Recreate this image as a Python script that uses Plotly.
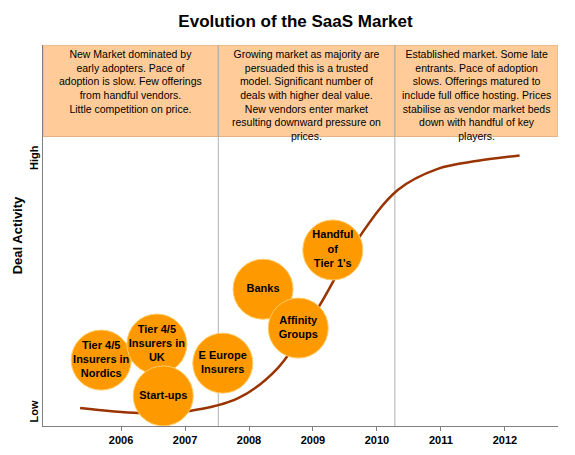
import plotly.graph_objects as go

curve_x = [2005.36, 2006.27, 2007.05, 2007.83, 2008.45, 2009.08, 2009.70, 2010.33, 2010.95, 2011.58, 2012.23]
curve_y = [4.7, 3.4, 3.9, 7.3, 15.2, 31, 49, 62, 67.5, 69.6, 71]

bub_labels = ["Tier 4/5<br>Insurers in<br>Nordics", "Tier 4/5<br>Insurers in<br>UK", "Start-ups",
              "E Europe<br>Insurers", "Banks", "Affinity<br>Groups", "Handful<br>of<br>Tier 1's"]
bub_x = [2005.69, 2006.56, 2006.66, 2007.59, 2008.22, 2008.77, 2009.31]
bub_y = [17.3, 21.5, 7.9, 16.5, 35.9, 25.7, 46.2]

years = [2006, 2007, 2008, 2009, 2010, 2011, 2012]
phase_bounds = [2004.78, 2007.52, 2010.28, 2012.83]
phase_text = [
    "New Market dominated by<br>early adopters. Pace of<br>adoption is slow. Few offerings<br>from handful vendors.<br>Little competition on price.",
    "Growing market as majority are<br>persuaded this is a trusted<br>model. Significant number of<br>deals with higher deal value.<br>New vendors enter market<br>resulting downward pressure on<br>prices.",
    "Established market. Some late<br>entrants. Pace of adoption<br>slows. Offerings matured to<br>include full office hosting. Prices<br>stabilise as vendor market beds<br>down with handful of key<br>players.",
]

fig = go.Figure()
fig.add_trace(go.Scatter(x=curve_x, y=curve_y, mode="lines", line=dict(color="#993300", width=2.5, shape="spline"), hoverinfo="skip"))
fig.add_trace(go.Scatter(x=bub_x, y=bub_y, mode="markers+text", text=bub_labels,
                         marker=dict(size=60, color="#FF9900", line=dict(color="#FFCC66", width=1)),
                         textfont=dict(family="Arial", size=11, color="black", weight="bold"), textposition="middle center"))

for i in range(3):
    fig.add_shape(type="rect", x0=phase_bounds[i], x1=phase_bounds[i+1], y0=76, y1=100,
                  fillcolor="#FFCC99", line=dict(color="#E0B080", width=1), layer="below")
    fig.add_annotation(x=(phase_bounds[i]+phase_bounds[i+1])/2, y=99.7, yanchor="top", text=phase_text[i],
                       showarrow=False, font=dict(family="Arial", size=10.5, color="black"))
for b in phase_bounds[1:3]:
    fig.add_shape(type="line", x0=b, x1=b, y0=0, y1=100, line=dict(color="#B0B0B0", width=1), layer="below")

fig.update_layout(
    width=575, height=455, margin=dict(l=35, r=25, t=37, b=37), showlegend=False,
    plot_bgcolor="white", paper_bgcolor="white",
    title=dict(text="<b>Evolution of the SaaS Market</b>", x=0.5, y=0.985, yanchor="top",
               font=dict(family="Arial", size=17, color="black")),
    xaxis=dict(range=[phase_bounds[0], phase_bounds[-1]], tickvals=years, ticktext=[str(y) for y in years],
               automargin=False,
               showgrid=False, zeroline=False, showline=True, linecolor="#808080", ticks="outside", ticklen=4,
               tickcolor="#808080", tickfont=dict(family="Arial", size=11, color="black", weight="bold")),
    yaxis=dict(range=[0, 100], tickvals=[3.4, 70], ticktext=["Low", "High"], tickangle=-90, automargin=False,
               showgrid=False, zeroline=False, showline=True, linecolor="#808080",
               tickfont=dict(family="Arial", size=11, color="black", weight="bold"),
               title=dict(text="<b>Deal Activity</b>", font=dict(family="Arial", size=13, color="black"), standoff=2)),
)
fig.write_html("out.html")
